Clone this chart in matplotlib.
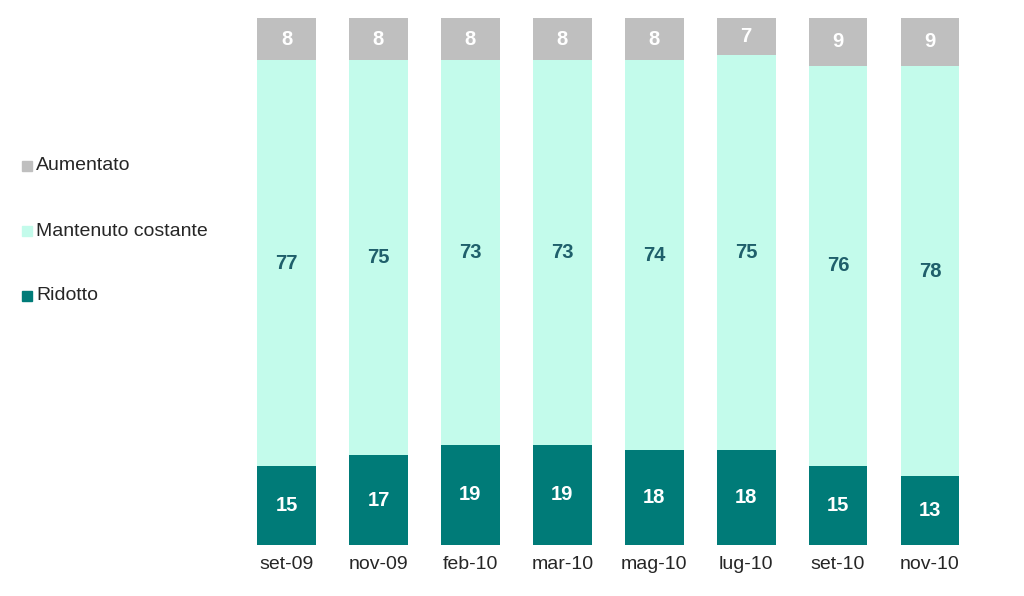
import matplotlib
matplotlib.use("Agg")
import matplotlib.pyplot as plt
from matplotlib.patches import Rectangle

# dati
mesi = ["set-09", "nov-09", "feb-10", "mar-10", "mag-10", "lug-10", "set-10", "nov-10"]
ridotto = [15, 17, 19, 19, 18, 18, 15, 13]
mantenuto = [77, 75, 73, 73, 74, 75, 76, 78]
aumentato = [8, 8, 8, 8, 8, 7, 9, 9]

serie = ["Aumentato", "Mantenuto costante", "Ridotto"]
colori = {"Aumentato": "#BFBFBF", "Mantenuto costante": "#C3FBEB", "Ridotto": "#007B78"}

plt.rcParams["font.family"] = ["Liberation Sans", "DejaVu Sans"]

fig = plt.figure(figsize=(10.24, 5.96), dpi=100)
ax = fig.add_axes([0.235, 0.0856, 0.718, 0.884])

x = range(len(mesi))
w = 0.64
bottom2 = ridotto
bottom3 = [r + m for r, m in zip(ridotto, mantenuto)]

ax.bar(x, ridotto, w, color=colori["Ridotto"])
ax.bar(x, mantenuto, w, bottom=bottom2, color=colori["Mantenuto costante"])
ax.bar(x, aumentato, w, bottom=bottom3, color=colori["Aumentato"])

for i in x:
    ax.text(i, ridotto[i] / 2, str(ridotto[i]), ha="center", va="center",
            color="white", fontsize=14.5, fontweight="bold")
    ax.text(i, ridotto[i] + mantenuto[i] / 2, str(mantenuto[i]), ha="center", va="center",
            color="#1F5F6B", fontsize=14.5, fontweight="bold")
    ax.text(i, bottom3[i] + aumentato[i] / 2, str(aumentato[i]), ha="center", va="center",
            color="white", fontsize=14.5, fontweight="bold")

ax.set_xlim(-0.5, len(mesi) - 0.5)
ax.set_ylim(0, 100)
ax.set_xticks(list(x))
ax.set_xticklabels(mesi, fontsize=14, color="#262626")
ax.tick_params(axis="x", length=0, pad=8)
ax.set_yticks([])
for s in ax.spines.values():
    s.set_visible(False)

# legenda manuale
ypos = [166, 231, 296]
for nome, yp in zip(serie, ypos):
    yf = 1 - yp / 596
    fig.add_artist(Rectangle((22 / 1024, yf - 5 / 596), 10 / 1024, 10 / 596,
                             transform=fig.transFigure, color=colori[nome]))
    fig.text(36 / 1024, yf, nome, fontsize=14, color="#262626", va="center", ha="left")

fig.savefig("out.png", dpi=100)
